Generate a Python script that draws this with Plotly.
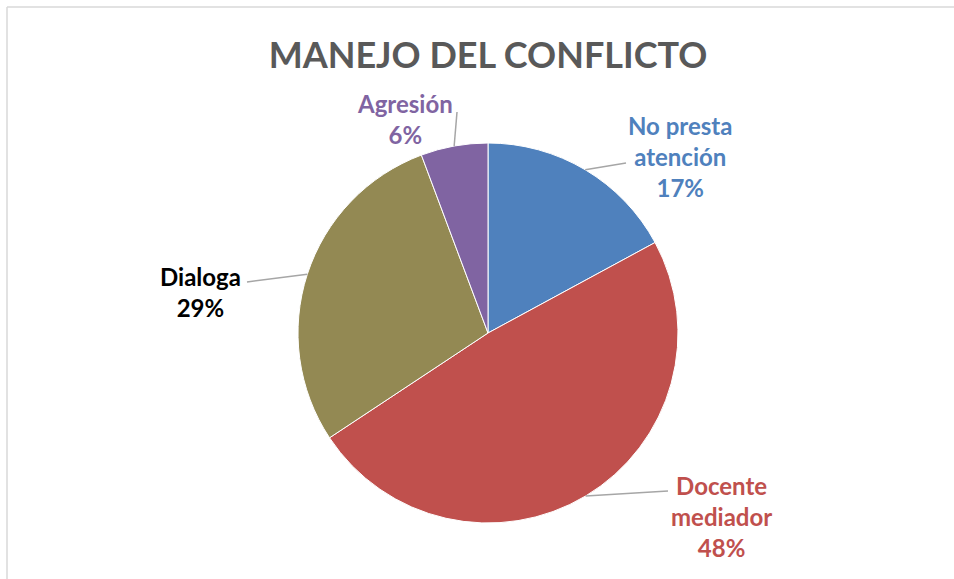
import math
import plotly.graph_objects as go

# ---- data ----
categories = ["No presta atención", "Docente mediador", "Dialoga", "Agresión"]
slice_values = [17.1, 48.6, 28.6, 5.7]          # slice sizes
percent_labels = [17, 48, 29, 6]                # percentages printed on the chart
label_lines = ["No presta<br>atención", "Docente<br>mediador", "Dialoga", "Agresión"]
title_text = "MANEJO DEL CONFLICTO"

# ---- style / layout ----
W, H = 954, 579
colors = ["#4F81BD", "#C0504D", "#938953", "#8064A2"]
label_colors = ["#4F81BD", "#C0504D", "#000000", "#8064A2"]
FONT = "Lato, Carlito, Calibri, sans-serif"
CX, CY, R = 488, 333, 190  # pie centre / radius in pixels
# label anchor (x centre, y middle) and leader-line end in pixels
label_pos = [(680, 156), (721, 516), (200, 292), (405, 119)]
leader_end = [(626, 163), (668, 491), (247, 282), (457, 112)]

def px(x):
    return x / W

def py(y):
    return 1 - y / H

fig = go.Figure()
fig.add_trace(go.Pie(
    labels=categories,
    values=slice_values,
    sort=False,
    direction="clockwise",
    rotation=0,
    textinfo="none",
    hoverinfo="label+percent",
    marker=dict(colors=colors, line=dict(color="white", width=1)),
    domain=dict(x=[px(CX - R), px(CX + R)], y=[py(CY + R), py(CY - R)]),
    showlegend=False,
))

total = sum(slice_values)
shapes = []
annotations = []
cum = 0
for i, v in enumerate(slice_values):
    mid = (cum + v / 2) / total * 2 * math.pi
    cum += v
    sx = CX + R * math.sin(mid)
    sy = CY - R * math.cos(mid)
    ex, ey = leader_end[i]
    shapes.append(dict(
        type="line", xref="paper", yref="paper",
        x0=px(sx), y0=py(sy), x1=px(ex), y1=py(ey),
        line=dict(color="#A6A6A6", width=1.5),
    ))
    lx, ly = label_pos[i]
    annotations.append(dict(
        x=px(lx), y=py(ly), xref="paper", yref="paper",
        xanchor="center", yanchor="middle", showarrow=False,
        text="<b>%s<br>%d%%</b>" % (label_lines[i], percent_labels[i]),
        font=dict(family=FONT, size=24, color=label_colors[i]),
        align="center",
    ))

# outer chart-area border (only top and left edges are visible)
border = dict(color="#D9D9D9", width=1.5)
shapes.append(dict(type="line", xref="paper", yref="paper", layer="below",
                   x0=px(7), y0=py(7), x1=1, y1=py(7), line=border))
shapes.append(dict(type="line", xref="paper", yref="paper", layer="below",
                   x0=px(7), y0=py(7), x1=px(7), y1=0, line=border))

fig.update_layout(
    width=W, height=H,
    margin=dict(l=0, r=0, t=0, b=0),
    paper_bgcolor="white",
    plot_bgcolor="white",
    title=dict(
        text="<b>%s</b>" % title_text,
        x=px(CX), xanchor="center",
        y=py(55), yanchor="middle",
        font=dict(family=FONT, size=36, color="#595959"),
    ),
    shapes=shapes,
    annotations=annotations,
)

fig.write_html(
    "out.html",
    config={"displayModeBar": False},
    post_script="document.body.style.margin='0';document.body.style.overflow='hidden';",
)
